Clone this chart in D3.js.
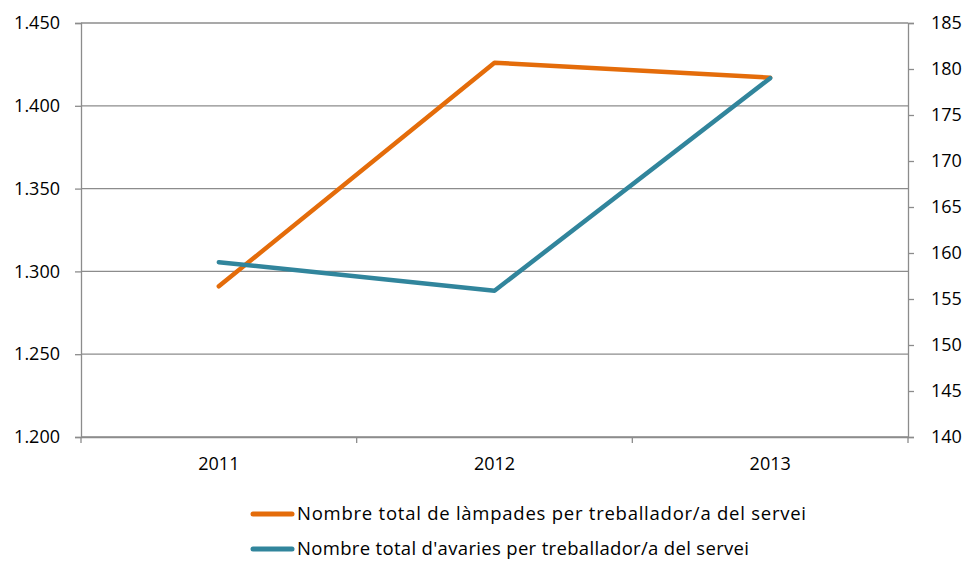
<!DOCTYPE html>
<html>
<head>
<meta charset="UTF-8">
<script src="https://d3js.org/d3.v7.min.js"></script>
<style>
  body { margin: 0; background: #fff; }
  svg text { font-family: "Open Sans", "Noto Sans", sans-serif; fill: #000; }
</style>
</head>
<body>
<svg></svg>
<script>
var width = 965, height = 561;

// data
var years = ["2011", "2012", "2013"];
var lampades = [1291, 1426, 1417];   // left axis
var avaries = [159.0, 155.9, 179.0]; // right axis
var leftTicks = [1200, 1250, 1300, 1350, 1400, 1450];
var rightTicks = [140, 145, 150, 155, 160, 165, 170, 175, 180, 185];
var seriesNames = [
  "Nombre total de làmpades per treballador/a del servei",
  "Nombre total d'avaries per treballador/a del servei"
];
var colors = ["#e46c0a", "#31859c"];
var legendWidths = [509, 452];

var mLeft = 81, mRight = 908, mTop = 23, mBottom = 437;
var fontSize = 18;

var svg = d3.select("svg").attr("width", width).attr("height", height);

var x = d3.scaleBand().domain(years).range([mLeft, mRight]);
var yL = d3.scaleLinear().domain([1200, 1450]).range([mBottom, mTop]);
var yR = d3.scaleLinear().domain([140, 185]).range([mBottom, mTop]);

var fmt = function(d) { return d3.format(".3f")(d / 1000); };

// gridlines
svg.append("g").selectAll("line")
  .data(leftTicks)
  .enter().append("line")
  .attr("x1", mLeft).attr("x2", mRight)
  .attr("y1", d => yL(d)).attr("y2", d => yL(d))
  .attr("stroke", "#8c8c8c").attr("stroke-width", 1.3);

// left axis
var gl = svg.append("g").attr("transform", "translate(" + mLeft + ",0)")
  .call(d3.axisLeft(yL).tickValues(leftTicks).tickFormat(fmt).tickSize(6).tickPadding(15));
gl.select(".domain").attr("stroke", "#8c8c8c").attr("stroke-width", 1.3);
gl.selectAll(".tick line").attr("stroke", "#8c8c8c").attr("stroke-width", 1.3);
gl.selectAll("text").attr("font-size", fontSize).style("font-family", "'Open Sans', sans-serif");

// right axis
var gr = svg.append("g").attr("transform", "translate(" + mRight + ",0)")
  .call(d3.axisRight(yR).tickValues(rightTicks).tickSize(6).tickPadding(17));
gr.select(".domain").attr("stroke", "#8c8c8c").attr("stroke-width", 1.3);
gr.selectAll(".tick line").attr("stroke", "#8c8c8c").attr("stroke-width", 1.3);
gr.selectAll("text").attr("font-size", fontSize).style("font-family", "'Open Sans', sans-serif");

// bottom axis
var gb = svg.append("g").attr("transform", "translate(0," + mBottom + ")")
  .call(d3.axisBottom(x).tickSize(0).tickPadding(20));
gb.select(".domain").attr("stroke", "#8c8c8c").attr("stroke-width", 1.3);
gb.selectAll("text").attr("font-size", fontSize).style("font-family", "'Open Sans', sans-serif");
// category boundary ticks
svg.append("g").selectAll("line")
  .data(years.concat(["end"]))
  .enter().append("line")
  .attr("x1", (d, i) => i < years.length ? x(d) : mRight)
  .attr("x2", (d, i) => i < years.length ? x(d) : mRight)
  .attr("y1", mBottom).attr("y2", mBottom + 6)
  .attr("stroke", "#8c8c8c").attr("stroke-width", 1.3);

// lines
var lineL = d3.line().x((d, i) => x(years[i]) + x.bandwidth() / 2).y(d => yL(d));
var lineR = d3.line().x((d, i) => x(years[i]) + x.bandwidth() / 2).y(d => yR(d));

svg.append("path").datum(lampades)
  .attr("d", lineL).attr("fill", "none")
  .attr("stroke", colors[0]).attr("stroke-width", 4.5)
  .attr("stroke-linecap", "round").attr("stroke-linejoin", "round");

svg.append("path").datum(avaries)
  .attr("d", lineR).attr("fill", "none")
  .attr("stroke", colors[1]).attr("stroke-width", 4.5)
  .attr("stroke-linecap", "round").attr("stroke-linejoin", "round");

// legend
var leg = svg.append("g").selectAll("g")
  .data(seriesNames)
  .enter().append("g")
  .attr("transform", (d, i) => "translate(253," + (514 + i * 35) + ")");
leg.append("line")
  .attr("x1", 0).attr("x2", 39)
  .attr("stroke", (d, i) => colors[i]).attr("stroke-width", 5)
  .attr("stroke-linecap", "round");
leg.append("text")
  .attr("x", 44).attr("dy", "0.35em")
  .attr("font-size", 18.5)
  .attr("textLength", (d, i) => legendWidths[i])
  .attr("lengthAdjust", "spacing")
  .text(d => d);
</script>
</body>
</html>
